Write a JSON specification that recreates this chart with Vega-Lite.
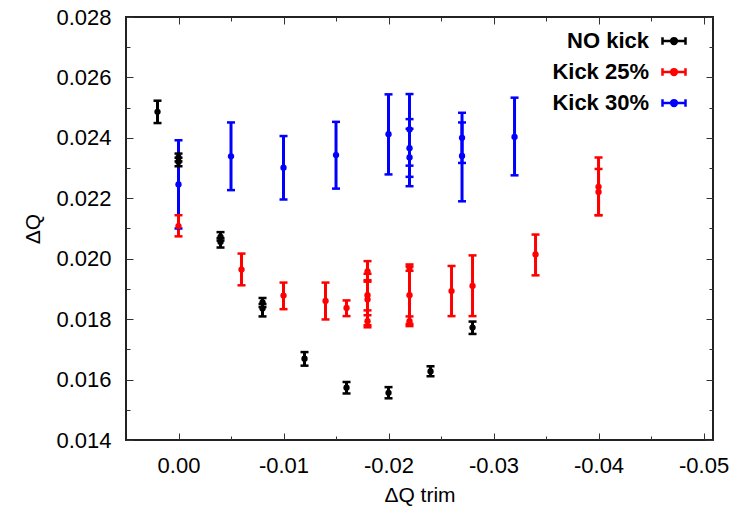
{
  "$schema": "https://vega.github.io/schema/vega-lite/v6.json",
  "autosize": "none",
  "width": 587,
  "height": 423,
  "padding": {"left": 126, "top": 17, "right": 18, "bottom": 67},
  "config": {
    "view": {"stroke": "#222222", "strokeWidth": 2},
    "axis": {
      "grid": false,
      "domain": false,
      "tickColor": "#333333",
      "tickWidth": 1,
      "labelFont": "Liberation Sans",
      "labelFontSize": 22,
      "labelColor": "#000000",
      "titleFont": "Liberation Sans",
      "titleFontSize": 21,
      "titleFontWeight": "normal",
      "titleColor": "#000000"
    },
    "legend": {
      "labelFont": "Liberation Sans",
      "labelFontSize": 22,
      "labelFontWeight": "bold",
      "labelColor": "#000000"
    }
  },
  "data": {
    "values": [
      {"s": "Kick 30%", "x": 0.0, "y": 0.02246, "lo": 0.02100, "hi": 0.02392},
      {"s": "Kick 30%", "x": -0.005, "y": 0.02339, "lo": 0.02227, "hi": 0.02451},
      {"s": "Kick 30%", "x": -0.010, "y": 0.02301, "lo": 0.02196, "hi": 0.02406},
      {"s": "Kick 30%", "x": -0.015, "y": 0.02343, "lo": 0.02232, "hi": 0.02453},
      {"s": "Kick 30%", "x": -0.020, "y": 0.02412, "lo": 0.02279, "hi": 0.02544},
      {"s": "Kick 30%", "x": -0.022, "y": 0.02428, "lo": 0.02308, "hi": 0.02545},
      {"s": "Kick 30%", "x": -0.022, "y": 0.02366, "lo": 0.02271, "hi": 0.02462},
      {"s": "Kick 30%", "x": -0.022, "y": 0.02335, "lo": 0.02240, "hi": 0.02430},
      {"s": "Kick 30%", "x": -0.027, "y": 0.02400, "lo": 0.02317, "hi": 0.02483},
      {"s": "Kick 30%", "x": -0.027, "y": 0.02340, "lo": 0.02190, "hi": 0.02451},
      {"s": "Kick 30%", "x": -0.032, "y": 0.02403, "lo": 0.02276, "hi": 0.02533},
      {"s": "NO kick", "x": 0.002, "y": 0.02486, "lo": 0.02449, "hi": 0.02523},
      {"s": "NO kick", "x": 0.0, "y": 0.02335, "lo": 0.02322, "hi": 0.02348},
      {"s": "NO kick", "x": 0.0, "y": 0.02320, "lo": 0.02306, "hi": 0.02334},
      {"s": "NO kick", "x": -0.004, "y": 0.02072, "lo": 0.02060, "hi": 0.02088},
      {"s": "NO kick", "x": -0.004, "y": 0.02055, "lo": 0.02037, "hi": 0.02068},
      {"s": "NO kick", "x": -0.008, "y": 0.01855, "lo": 0.01840, "hi": 0.01870},
      {"s": "NO kick", "x": -0.008, "y": 0.01835, "lo": 0.01809, "hi": 0.01850},
      {"s": "NO kick", "x": -0.012, "y": 0.01669, "lo": 0.01646, "hi": 0.01691},
      {"s": "NO kick", "x": -0.016, "y": 0.01573, "lo": 0.01554, "hi": 0.01592},
      {"s": "NO kick", "x": -0.020, "y": 0.01556, "lo": 0.01538, "hi": 0.01575},
      {"s": "NO kick", "x": -0.024, "y": 0.01627, "lo": 0.01611, "hi": 0.01644},
      {"s": "NO kick", "x": -0.028, "y": 0.01772, "lo": 0.01751, "hi": 0.01792},
      {"s": "Kick 25%", "x": 0.0, "y": 0.02108, "lo": 0.02074, "hi": 0.02144},
      {"s": "Kick 25%", "x": -0.006, "y": 0.01964, "lo": 0.01912, "hi": 0.02017},
      {"s": "Kick 25%", "x": -0.010, "y": 0.01878, "lo": 0.01833, "hi": 0.01921},
      {"s": "Kick 25%", "x": -0.014, "y": 0.01860, "lo": 0.01799, "hi": 0.01921},
      {"s": "Kick 25%", "x": -0.016, "y": 0.01837, "lo": 0.01810, "hi": 0.01862},
      {"s": "Kick 25%", "x": -0.018, "y": 0.01958, "lo": 0.01924, "hi": 0.01992},
      {"s": "Kick 25%", "x": -0.018, "y": 0.01879, "lo": 0.01829, "hi": 0.01929},
      {"s": "Kick 25%", "x": -0.018, "y": 0.01865, "lo": 0.01780, "hi": 0.01950},
      {"s": "Kick 25%", "x": -0.018, "y": 0.01793, "lo": 0.01773, "hi": 0.01813},
      {"s": "Kick 25%", "x": -0.022, "y": 0.01970, "lo": 0.01960, "hi": 0.01981},
      {"s": "Kick 25%", "x": -0.022, "y": 0.01879, "lo": 0.01784, "hi": 0.01974},
      {"s": "Kick 25%", "x": -0.022, "y": 0.01793, "lo": 0.01777, "hi": 0.01809},
      {"s": "Kick 25%", "x": -0.026, "y": 0.01893, "lo": 0.01810, "hi": 0.01976},
      {"s": "Kick 25%", "x": -0.028, "y": 0.01910, "lo": 0.01810, "hi": 0.02011},
      {"s": "Kick 25%", "x": -0.034, "y": 0.02014, "lo": 0.01945, "hi": 0.02080},
      {"s": "Kick 25%", "x": -0.040, "y": 0.02238, "lo": 0.02144, "hi": 0.02335},
      {"s": "Kick 25%", "x": -0.040, "y": 0.02221, "lo": 0.02144, "hi": 0.02297}
    ]
  },
  "resolve": {"axis": {"x": "independent", "y": "independent"}},
  "layer": [
    {
      "mark": {"type": "rule", "strokeWidth": 3},
      "encoding": {
        "x": {
          "field": "x", "type": "quantitative",
          "scale": {"domain": [-0.0509, 0.005], "reverse": true, "nice": false, "zero": false},
          "axis": {
            "orient": "bottom",
            "values": [0, -0.01, -0.02, -0.03, -0.04, -0.05],
            "tickSize": -7,
            "labelPadding": 22,
            "labelExpr": "replace(format(datum.value, '.2f'), '\u2212', '-')",
            "title": "ΔQ trim",
            "titlePadding": 8
          }
        },
        "y": {
          "field": "lo", "type": "quantitative",
          "scale": {"domain": [0.014, 0.028], "nice": false, "zero": false},
          "axis": {
            "orient": "left",
            "values": [0.014, 0.016, 0.018, 0.020, 0.022, 0.024, 0.026, 0.028],
            "format": ".3f",
            "tickSize": -7,
            "labelPadding": 22,
            "title": "ΔQ",
            "titlePadding": 12
          }
        },
        "y2": {"field": "hi"},
        "color": {
          "field": "s", "type": "nominal",
          "scale": {"domain": ["NO kick", "Kick 25%", "Kick 30%"], "range": ["#000000", "#ff0000", "#0000ff"]},
          "legend": {
            "title": null,
            "orient": "none",
            "legendX": 535,
            "legendY": 11,
            "padding": 0,
            "labelAlign": "right",
            "labelOffset": -38,
            "symbolOffset": 0,
            "symbolType": "M-1,0H1M-1,-0.33V0.33M1,-0.33V0.33M0.25,0A0.25,0.25,0,1,1,-0.25,0A0.25,0.25,0,1,1,0.25,0",
            "symbolSize": 529,
            "symbolStrokeWidth": 2.5,
            "rowPadding": 7,
            "encode": {
              "symbols": {
                "update": {
                  "fill": {"field": "value", "scale": "color"},
                  "stroke": {"field": "value", "scale": "color"},
                  "opacity": {"value": 1}
                }
              }
            }
          }
        }
      }
    },
    {
      "mark": {"type": "tick", "orient": "horizontal", "size": 8, "thickness": 2.5, "opacity": 1},
      "encoding": {
        "x": {
          "field": "x", "type": "quantitative",
          "axis": {"orient": "bottom", "values": [-0.005, -0.015, -0.025, -0.035, -0.045], "tickSize": -4, "labels": false, "title": null}
        },
        "y": {
          "field": "lo", "type": "quantitative",
          "axis": {"orient": "left", "values": [0.015, 0.017, 0.019, 0.021, 0.023, 0.025, 0.027], "tickSize": -4, "labels": false, "title": null}
        },
        "color": {"field": "s", "type": "nominal"}
      }
    },
    {
      "mark": {"type": "tick", "orient": "horizontal", "size": 8, "thickness": 2.5, "opacity": 1},
      "encoding": {
        "x": {
          "field": "x", "type": "quantitative",
          "axis": {"orient": "top", "values": [0, -0.01, -0.02, -0.03, -0.04, -0.05], "tickSize": -7, "labels": false, "title": null}
        },
        "y": {
          "field": "hi", "type": "quantitative",
          "axis": {"orient": "right", "values": [0.014, 0.016, 0.018, 0.020, 0.022, 0.024, 0.026, 0.028], "tickSize": -7, "labels": false, "title": null}
        },
        "color": {"field": "s", "type": "nominal"}
      }
    },
    {
      "mark": {"type": "point", "filled": true, "shape": "circle", "size": 40, "opacity": 1},
      "encoding": {
        "x": {
          "field": "x", "type": "quantitative",
          "axis": {"orient": "top", "values": [-0.005, -0.015, -0.025, -0.035, -0.045], "tickSize": -4, "labels": false, "title": null}
        },
        "y": {
          "field": "y", "type": "quantitative",
          "axis": {"orient": "right", "values": [0.015, 0.017, 0.019, 0.021, 0.023, 0.025, 0.027], "tickSize": -4, "labels": false, "title": null}
        },
        "color": {"field": "s", "type": "nominal"}
      }
    }
  ]
}
